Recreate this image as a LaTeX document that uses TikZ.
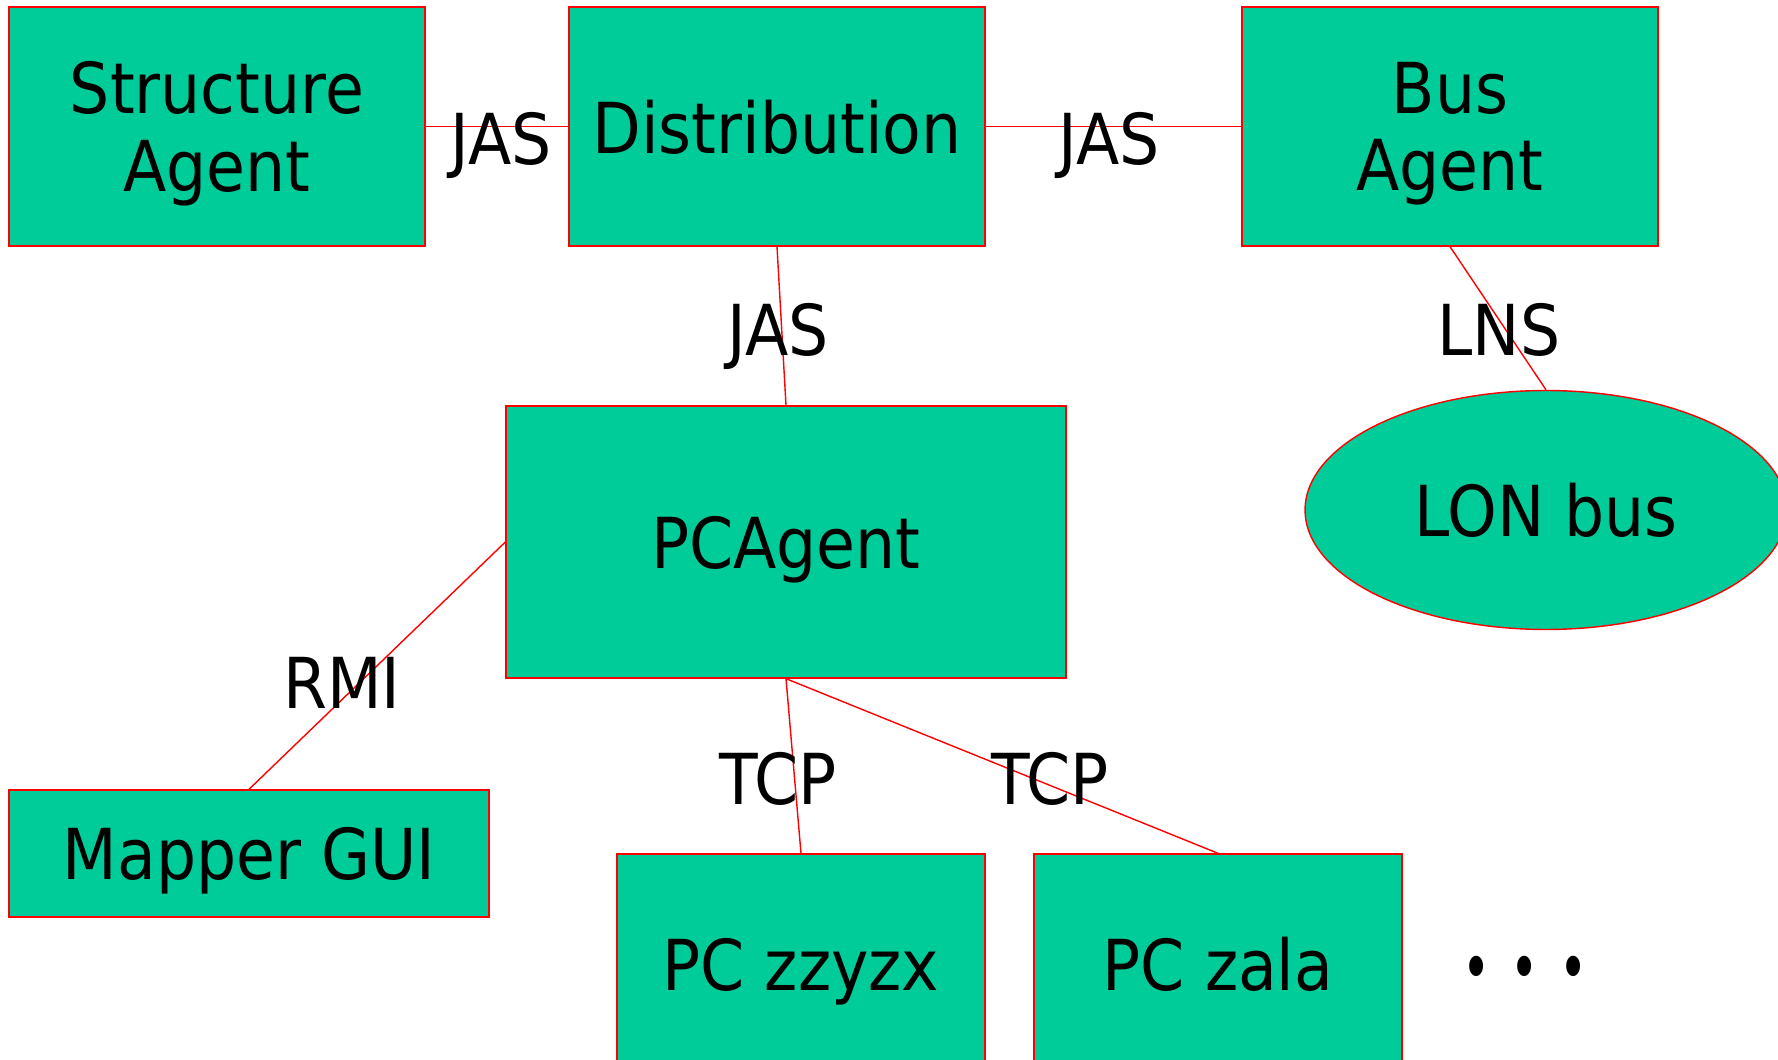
\documentclass[tikz,border=0pt]{standalone}
\usepackage{fontspec}
\setmainfont{DejaVu Sans}[FakeStretch=0.9]
\newfontfamily\dotfont{DejaVu Sans}[FakeStretch=0.68]
\usetikzlibrary{shapes.geometric}
\definecolor{agentgreen}{RGB}{0,204,153}
\tikzset{
  agent/.style={draw=red, fill=agentgreen, line width=0.8pt, inner sep=0pt,
    align=center, text depth=0pt, font=\fontsize{40}{44}\selectfont},
  link/.style={draw=red, line width=0.8pt},
  proto/.style={inner sep=0pt, text depth=0pt, font=\fontsize{40}{44}\selectfont}
}

\begin{document}
\begin{tikzpicture}[x=0.02cm, y=-0.02cm]
        \useasboundingbox (0,0) rectangle (1778,1060);
        \clip (0,0) rectangle (1778,1060);

        \node[agent, minimum width=8.32cm, minimum height=4.78cm] (struct) at (217,126.5) {Structure\\Agent};
        \node[agent, minimum width=8.32cm, minimum height=4.78cm] (dist) at (777,126.5) {Distribution};
        \node[agent, minimum width=8.32cm, minimum height=4.78cm] (bus) at (1450,126.5) {Bus\\Agent};
        \node[agent, minimum width=11.2cm, minimum height=5.44cm] (pcagent) at (786,542) {PCAgent};
        \node[agent, ellipse, minimum width=9.64cm, minimum height=4.78cm] (lon) at (1546,510) {LON bus};
        \node[agent, minimum width=9.6cm, minimum height=2.54cm] (mapper) at (249,853.5) {Mapper GUI};
        \node[agent, minimum width=7.36cm, minimum height=4.4cm] (zzyzx) at (801,964) {PC zzyzx};
        \node[agent, minimum width=7.36cm, minimum height=4.4cm] (zala) at (1218,964) {PC zala};
        \node[proto, font=\fontsize{40}{44}\dotfont] (more) at (1525,974) {•\hspace{0.4cm}•\hspace{0.4cm}•};

        \foreach \a/\b in {struct.east/dist.west, dist.east/bus.west, dist.south/pcagent.north,
                           bus.south/lon.north, pcagent.west/mapper.north,
                           pcagent.south/zzyzx.north, pcagent.south/zala.north}
            \draw[link] (\a) -- (\b);

        \foreach \x/\y/\t in {501/138/JAS, 1109/138/JAS, 778/329/JAS, 1499/329/LNS,
                              342/683/RMI, 778/778/TCP, 1050/778/TCP}
            \node[proto] at (\x,\y) {\t};
\end{tikzpicture}
\end{document}
